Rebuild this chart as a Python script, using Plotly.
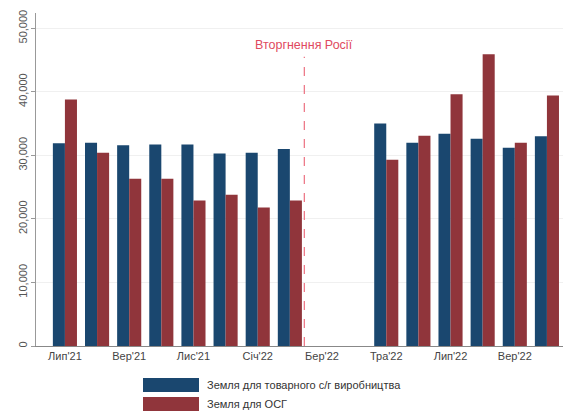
import plotly.graph_objects as go

months = ["Лип'21", "Сер'21", "Вер'21", "Жов'21", "Лис'21", "Гру'21", "Січ'22", "Лют'22",
          "Бер'22", "Кві'22", "Тра'22", "Чер'22", "Лип'22", "Сер'22", "Вер'22", "Жов'22"]
series_names = ["Земля для товарного с/г виробництва", "Земля для ОСГ"]
commercial = [31900, 32000, 31600, 31700, 31700, 30300, 30400, 31000,
              None, None, 35000, 32000, 33400, 32600, 31200, 33000]
household = [38800, 30400, 26300, 26300, 22900, 23800, 21800, 22900,
             None, None, 29300, 33100, 39600, 45900, 32000, 39400]
tick_labels = ["Лип'21", "Вер'21", "Лис'21", "Січ'22", "Бер'22", "Тра'22", "Лип'22", "Вер'22"]
y_ticks = [0, 10000, 20000, 30000, 40000, 50000]
invasion_label = "Вторгнення Росії"
invasion_pos = 7.45

colors = ["#1a476f", "#90353b"]
x = list(range(len(months)))
tick_vals = [months.index(t) for t in tick_labels]

fig = go.Figure()
for name, vals, c in zip(series_names, [commercial, household], colors):
    fig.add_trace(go.Bar(x=x, y=vals, name=name, marker=dict(color=c, line=dict(width=0)),
                         showlegend=False))

fig.add_shape(type="line", x0=invasion_pos, x1=invasion_pos, y0=0, y1=45500,
              xref="x", yref="y", line=dict(color="#ec7080", width=1.2, dash="dash"))
fig.add_annotation(x=invasion_pos, y=47300, xref="x", yref="y", text=invasion_label,
                   showarrow=False, font=dict(color="#e04a60", size=12.5))

# custom legend
for name, c, yy in zip(series_names, colors, [378, 397]):
    fig.add_shape(type="rect", xref="paper", yref="paper",
                  x0=(143 - 36) / 527, x1=(199 - 36) / 527,
                  y0=(346 - yy - 14) / 333, y1=(346 - yy) / 333,
                  fillcolor=c, line=dict(width=0))
    fig.add_annotation(xref="paper", yref="paper", x=(205 - 36) / 527, y=(346 - yy - 7) / 333,
                       text=name, showarrow=False, xanchor="left", yanchor="middle",
                       font=dict(size=11, color="#333333"))

fig.update_layout(
    width=568, height=412,
    margin=dict(l=36, r=5, t=13, b=66),
    paper_bgcolor="white", plot_bgcolor="white",
    barmode="group", bargap=0.25, bargroupgap=0,
    font=dict(family="Liberation Sans, Arial, sans-serif", size=11, color="#444444"),
    xaxis=dict(range=[-0.9, 15.5], tickmode="array", tickvals=tick_vals, ticktext=tick_labels,
               showgrid=False, showline=True, linecolor="#888888", linewidth=1,
               ticks="", zeroline=False, tickfont=dict(size=11, color="#444444")),
    yaxis=dict(range=[0, 52400], tickmode="array", tickvals=y_ticks,
               ticktext=[f"{v:,}" for v in y_ticks], tickangle=-90,
               showgrid=True, gridcolor="#f0f0f0", showline=True, linecolor="#999999",
               linewidth=1, ticks="outside", ticklen=4, tickcolor="#999999",
               zeroline=False, tickfont=dict(size=11, color="#555555")),
)

fig.write_html("out.html", config={"displayModeBar": False},
               post_script="document.body.style.margin='0';")
